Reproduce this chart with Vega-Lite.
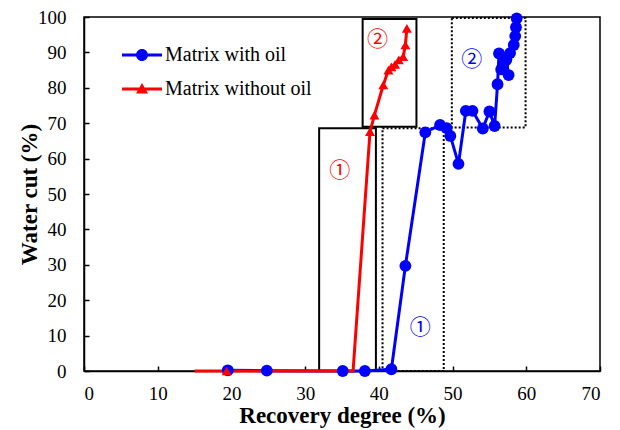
{
  "$schema": "https://vega.github.io/schema/vega-lite/v6.json",
  "width": 516,
  "height": 354,
  "autosize": {"type": "none"},
  "padding": {"left": 84, "top": 17, "right": 20, "bottom": 59},
  "background": "white",
  "config": {
    "view": {"stroke": "black", "strokeWidth": 1.5},
    "font": "Liberation Serif",
    "axis": {
      "grid": false,
      "domainColor": "black",
      "domainWidth": 1.5,
      "tickColor": "black",
      "tickWidth": 1.5,
      "tickSize": -5,
      "labelFont": "Liberation Serif",
      "labelFontSize": 19,
      "labelColor": "black",
      "labelOverlap": false,
      "labelSeparation": -100000,
      "labelBound": false,
      "titleFont": "Liberation Serif",
      "titleFontSize": 23,
      "titleFontWeight": "bold",
      "titleColor": "black"
    }
  },
  "datasets": {
    "series": [
      {"series": "Matrix with oil", "step": 1, "x": 19.5, "y": 0.2},
      {"series": "Matrix with oil", "step": 2, "x": 24.8, "y": 0.1},
      {"series": "Matrix with oil", "step": 3, "x": 35.1, "y": 0},
      {"series": "Matrix with oil", "step": 4, "x": 38.1, "y": 0},
      {"series": "Matrix with oil", "step": 5, "x": 41.7, "y": 0.5},
      {"series": "Matrix with oil", "step": 6, "x": 43.6, "y": 29.7},
      {"series": "Matrix with oil", "step": 7, "x": 46.3, "y": 67.4},
      {"series": "Matrix with oil", "step": 8, "x": 48.3, "y": 69.5},
      {"series": "Matrix with oil", "step": 9, "x": 49.2, "y": 68.6},
      {"series": "Matrix with oil", "step": 10, "x": 49.7, "y": 66.4},
      {"series": "Matrix with oil", "step": 11, "x": 50.8, "y": 58.5},
      {"series": "Matrix with oil", "step": 12, "x": 51.8, "y": 73.5},
      {"series": "Matrix with oil", "step": 13, "x": 52.7, "y": 73.5},
      {"series": "Matrix with oil", "step": 14, "x": 54.1, "y": 68.5},
      {"series": "Matrix with oil", "step": 15, "x": 55.0, "y": 73.3},
      {"series": "Matrix with oil", "step": 16, "x": 55.7, "y": 69.2},
      {"series": "Matrix with oil", "step": 17, "x": 56.1, "y": 81.0},
      {"series": "Matrix with oil", "step": 18, "x": 56.3, "y": 89.7},
      {"series": "Matrix with oil", "step": 19, "x": 56.6, "y": 85.2},
      {"series": "Matrix with oil", "step": 20, "x": 56.9, "y": 86.9},
      {"series": "Matrix with oil", "step": 21, "x": 57.6, "y": 83.6},
      {"series": "Matrix with oil", "step": 22, "x": 57.3, "y": 87.9},
      {"series": "Matrix with oil", "step": 23, "x": 57.8, "y": 89.8},
      {"series": "Matrix with oil", "step": 24, "x": 58.3, "y": 92.1},
      {"series": "Matrix with oil", "step": 25, "x": 58.5, "y": 94.6},
      {"series": "Matrix with oil", "step": 26, "x": 58.6, "y": 97.1},
      {"series": "Matrix with oil", "step": 27, "x": 58.7, "y": 99.6},
      {"series": "Matrix without oil", "step": 1, "x": 15.0, "y": 0, "nomarker": true},
      {"series": "Matrix without oil", "step": 2, "x": 19.35, "y": 0},
      {"series": "Matrix without oil", "step": 3, "x": 36.5, "y": 0, "nomarker": true},
      {"series": "Matrix without oil", "step": 4, "x": 38.8, "y": 67.6},
      {"series": "Matrix without oil", "step": 5, "x": 39.4, "y": 72.3},
      {"series": "Matrix without oil", "step": 6, "x": 40.6, "y": 80.8},
      {"series": "Matrix without oil", "step": 7, "x": 41.3, "y": 85.0},
      {"series": "Matrix without oil", "step": 8, "x": 41.7, "y": 85.9},
      {"series": "Matrix without oil", "step": 9, "x": 42.2, "y": 86.6},
      {"series": "Matrix without oil", "step": 10, "x": 42.7, "y": 87.9},
      {"series": "Matrix without oil", "step": 11, "x": 43.3, "y": 88.8},
      {"series": "Matrix without oil", "step": 12, "x": 43.6, "y": 92.1},
      {"series": "Matrix without oil", "step": 13, "x": 43.8, "y": 96.8}
    ],
    "stages": [
      {"series": "Matrix without oil", "stage": "①", "x1": 31.9, "x2": 39.6, "y1": 0, "y2": 68.6, "lx": 34.7, "ly": 56.5},
      {"series": "Matrix without oil", "stage": "②", "x1": 37.8, "x2": 45.1, "y1": 69.0, "y2": 99.4, "lx": 39.8, "ly": 93.4},
      {"series": "Matrix with oil", "stage": "①", "x1": 40.5, "x2": 48.8, "y1": 0, "y2": 68.6, "lx": 45.6, "ly": 12.1},
      {"series": "Matrix with oil", "stage": "②", "x1": 49.9, "x2": 59.9, "y1": 68.8, "y2": 99.7, "lx": 52.6, "ly": 87.9}
    ]
  },
  "layer": [
    {
      "data": {"name": "stages"},
      "transform": [{"filter": "datum.series == 'Matrix without oil'"}],
      "mark": {"type": "rect", "fill": null, "fillOpacity": 0, "stroke": "black", "strokeWidth": 2},
      "encoding": {
        "x": {"field": "x1", "type": "quantitative", "title": "Recovery degree (%)",
              "scale": {"domain": [0, 70]},
              "axis": {"values": [0, 10, 20, 30, 40, 50, 60, 70], "labelOverlap": false, "labelSeparation": -100000,
                       "labelPadding": 18, "titlePadding": 1}},
        "x2": {"field": "x2"},
        "y": {"field": "y1", "type": "quantitative", "title": "Water cut (%)",
              "scale": {"domain": [0, 100], "nice": false},
              "axis": {"values": [0, 10, 20, 30, 40, 50, 60, 70, 80, 90, 100], "tickCount": 11,
                       "labelOverlap": false, "labelSeparation": -100000, "labelLimit": 0,
                       "labelPadding": 23, "titlePadding": -4}},
        "y2": {"field": "y2"}
      }
    },
    {
      "data": {"name": "stages"},
      "transform": [{"filter": "datum.series == 'Matrix with oil'"}],
      "mark": {"type": "rect", "fill": null, "fillOpacity": 0, "stroke": "black", "strokeWidth": 2, "strokeDash": [2, 2]},
      "encoding": {
        "x": {"field": "x1", "type": "quantitative"},
        "x2": {"field": "x2"},
        "y": {"field": "y1", "type": "quantitative"},
        "y2": {"field": "y2"}
      }
    },
    {
      "data": {"name": "series"},
      "mark": {"type": "line", "strokeWidth": 3},
      "encoding": {
        "x": {"field": "x", "type": "quantitative"},
        "y": {"field": "y", "type": "quantitative"},
        "order": {"field": "step", "type": "quantitative"},
        "color": {
          "field": "series", "type": "nominal",
          "scale": {"domain": ["Matrix with oil", "Matrix without oil"], "range": ["#0000FF", "#FF0000"]},
          "legend": {
            "title": null,
            "orient": "none",
            "legendX": 48,
            "legendY": 28,
            "padding": 0,
            "direction": "vertical",
            "rowPadding": 14,
            "labelOffset": 13,
            "labelFont": "Liberation Serif",
            "labelFontSize": 20,
            "labelColor": "black",
            "symbolSize": 400,
            "symbolStrokeWidth": 0,
            "encode": {
              "symbols": {
                "update": {
                  "shape": {"signal": "datum.value == 'Matrix with oil' ? 'M-2,-0.15H2V0.15H-2Z M0.6,0A0.6,0.6 0 1,1 -0.6,0A0.6,0.6 0 1,1 0.6,0Z' : 'M-2,-0.15H2V0.15H-2Z M0,-0.6L0.6,0.45L-0.6,0.45Z'"},
                  "fill": {"signal": "datum.value == 'Matrix with oil' ? '#0000FF' : '#FF0000'"},
                  "fillOpacity": {"value": 1},
                  "strokeWidth": {"value": 0},
                  "size": {"value": 400}
                }
              }
            }
          }
        }
      }
    },
    {
      "data": {"name": "series"},
      "transform": [{"filter": "datum.series == 'Matrix with oil'"}],
      "mark": {"type": "point", "filled": true, "opacity": 1, "shape": "circle", "size": 140, "color": "#0000FF"},
      "encoding": {
        "x": {"field": "x", "type": "quantitative"},
        "y": {"field": "y", "type": "quantitative"}
      }
    },
    {
      "data": {"name": "series"},
      "transform": [{"filter": "datum.series == 'Matrix without oil' && !datum.nomarker"}],
      "mark": {"type": "point", "filled": true, "opacity": 1, "shape": "triangle-up", "size": 100, "color": "#FF0000"},
      "encoding": {
        "x": {"field": "x", "type": "quantitative"},
        "y": {"field": "y", "type": "quantitative"}
      }
    },
    {
      "data": {"name": "stages"},
      "transform": [{"filter": "datum.series == 'Matrix without oil'"}],
      "mark": {"type": "text", "font": "Noto Sans CJK JP", "fontSize": 21, "color": "#FF0000"},
      "encoding": {
        "x": {"field": "lx", "type": "quantitative"},
        "y": {"field": "ly", "type": "quantitative"},
        "text": {"field": "stage"}
      }
    },
    {
      "data": {"name": "stages"},
      "transform": [{"filter": "datum.series == 'Matrix with oil'"}],
      "mark": {"type": "text", "font": "Noto Sans CJK JP", "fontSize": 21, "color": "#0000FF"},
      "encoding": {
        "x": {"field": "lx", "type": "quantitative"},
        "y": {"field": "ly", "type": "quantitative"},
        "text": {"field": "stage"}
      }
    }
  ]
}
